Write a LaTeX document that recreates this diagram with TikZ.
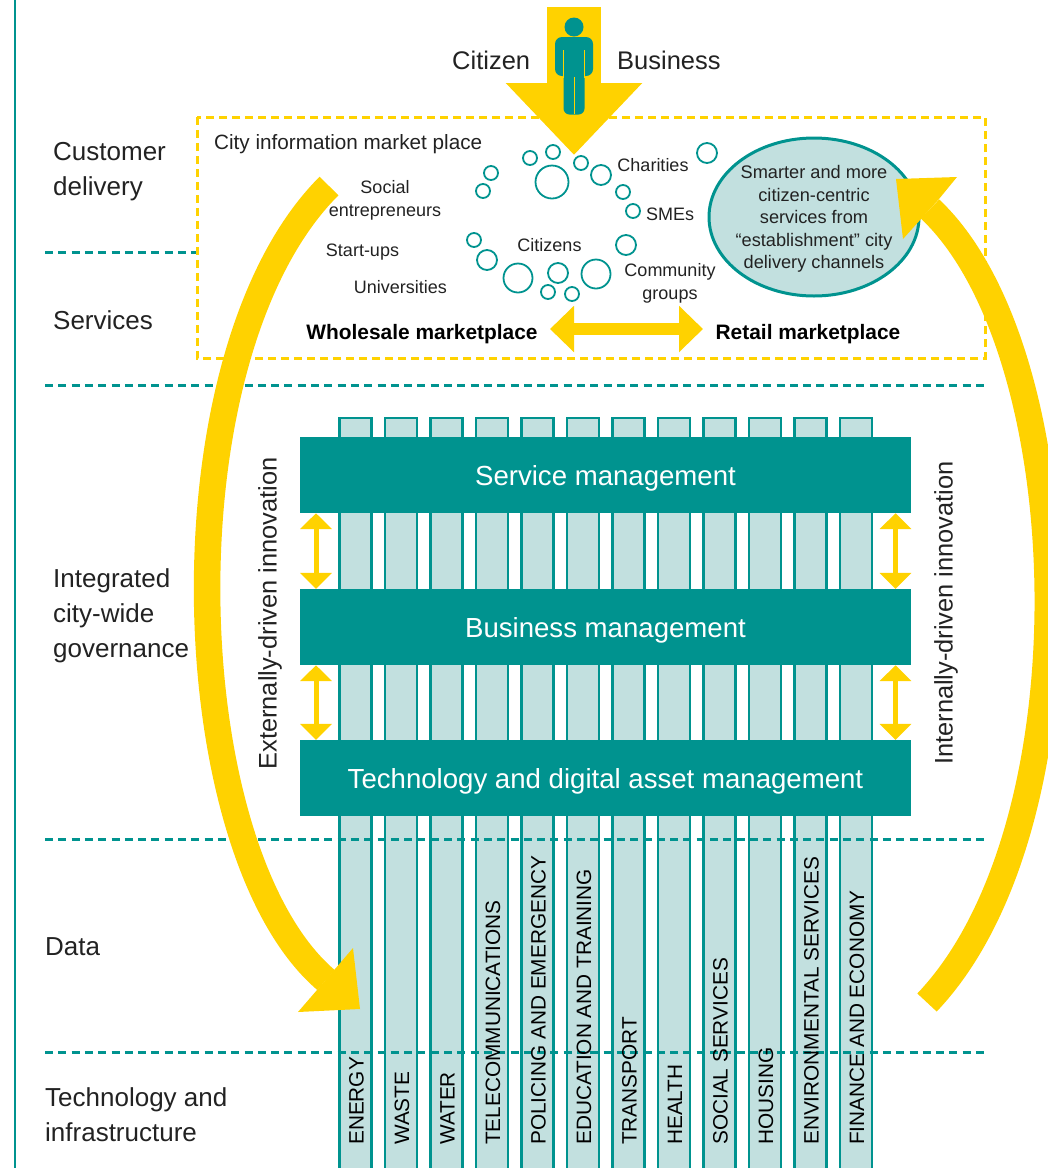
\documentclass[tikz,border=0pt]{standalone}
\usepackage{fontspec}
\setmainfont{Liberation Sans}
\usetikzlibrary{arrows.meta,shapes.geometric}
\definecolor{cteal}{HTML}{00938F}
\definecolor{clight}{HTML}{C2E0DF}
\definecolor{cgold}{HTML}{FFD200}
\definecolor{cink}{HTML}{222222}
\tikzset{
  colbox/.style={rectangle, draw=cteal, fill=clight, line width=2.8pt, minimum width=32pt, minimum height=770pt, inner sep=0pt, anchor=north},
  collabel/.style={rotate=90, anchor=west, inner sep=0pt, text=black, font=\fontsize{20.8}{20.8}\selectfont},
  tealbar/.style={rectangle, fill=cteal, text=white, minimum width=611pt, minimum height=76pt, inner sep=0pt, text height=26pt, text depth=6pt, font=\fontsize{27.6}{27.6}\selectfont},
  sidelabel/.style={anchor=west, align=left, inner sep=0pt, text=cink, font=\fontsize{26}{35}\selectfont},
  smalllabel/.style={align=center, inner sep=0pt, text=cink, font=\fontsize{18}{23}\selectfont},
  marketlabel/.style={inner sep=0pt, text=black, font=\bfseries\fontsize{20.9}{20.9}\selectfont},
  bubble/.style={circle, draw=cteal, line width=1.8pt, inner sep=0pt},
  tealdash/.style={draw=cteal, line width=3pt, dash pattern=on 8pt off 5.3pt},
  golddash/.style={draw=cgold, line width=3pt, dash pattern=on 8pt off 5pt},
  vertarrow/.style={draw=cgold, line width=5pt, {Triangle[width=31pt,length=16pt]}-{Triangle[width=31pt,length=16pt]}},
  bigcurve/.style={draw=cgold, line width=26.5pt},
}
\begin{document}
\begin{tikzpicture}[x=1pt,y=-1pt]
\clip (0,0) rectangle (1048,1168);
\coordinate (rule0) at (15,0);
\coordinate (rule1) at (15,1168);
\draw[draw=cteal, line width=2.8pt] (rule0) -- (rule1);
\node[colbox] (col0) at (355.5,416.5){};
\node[colbox] (col1) at (401,416.5){};
\node[colbox] (col2) at (446.5,416.5){};
\node[colbox] (col3) at (492,416.5){};
\node[colbox] (col4) at (537.5,416.5){};
\node[colbox] (col5) at (583,416.5){};
\node[colbox] (col6) at (628.5,416.5){};
\node[colbox] (col7) at (674,416.5){};
\node[colbox] (col8) at (719.5,416.5){};
\node[colbox] (col9) at (765,416.5){};
\node[colbox] (col10) at (810.5,416.5){};
\node[colbox] (col11) at (856,416.5){};
\coordinate (dash0a) at (45,252);
\coordinate (dash0b) at (197,252);
\coordinate (dash1a) at (45,385);
\coordinate (dash1b) at (985,385);
\coordinate (dash2a) at (45,839);
\coordinate (dash2b) at (985,839);
\coordinate (dash3a) at (45,1052);
\coordinate (dash3b) at (985,1052);
\draw[tealdash] (dash0a) -- (dash0b);
\draw[tealdash] (dash1a) -- (dash1b);
\draw[tealdash] (dash2a) -- (dash2b);
\draw[tealdash] (dash3a) -- (dash3b);
\coordinate (mark0) at (197,117);
\coordinate (mark1) at (985,358);
\draw[golddash] (mark0) rectangle (mark1);
\node[collabel] (lab0) at (356.5,1145){ENERGY};
\node[collabel] (lab1) at (402,1145){WASTE};
\node[collabel] (lab2) at (447.5,1145){WATER};
\node[collabel] (lab3) at (493,1145){TELECOMMUNICATIONS};
\node[collabel] (lab4) at (538.5,1145){POLICING AND EMERGENCY};
\node[collabel] (lab5) at (584,1145){EDUCATION AND TRAINING};
\node[collabel] (lab6) at (629.5,1145){TRANSPORT};
\node[collabel] (lab7) at (675,1145){HEALTH};
\node[collabel] (lab8) at (720.5,1145){SOCIAL SERVICES};
\node[collabel] (lab9) at (766,1145){HOUSING};
\node[collabel] (lab10) at (811.5,1145){ENVIRONMENTAL SERVICES};
\node[collabel] (lab11) at (857,1145){FINANCE AND ECONOMY};
\node[tealbar] (svc) at (605.5,475){Service management};
\node[tealbar] (bus) at (605.5,627){Business management};
\node[tealbar] (tech) at (605.5,778){Technology and digital asset management};
\coordinate (axL) at (316,0);
\coordinate (axR) at (895.5,0);
\draw[vertarrow] (svc.south -| axL) -- (bus.north -| axL);
\draw[vertarrow] (bus.south -| axL) -- (tech.north -| axL);
\draw[vertarrow] (svc.south -| axR) -- (bus.north -| axR);
\draw[vertarrow] (bus.south -| axR) -- (tech.north -| axR);
\node[sidelabel, rotate=90, anchor=center, font=\fontsize{25.4}{25.4}\selectfont] (extern) at (270,613.5){Externally-driven innovation};
\node[sidelabel, rotate=90, anchor=center, font=\fontsize{25.4}{25.4}\selectfont] (intern) at (946,613){Internally-driven innovation};
\node[sidelabel] (cust) at (53,172){Customer\\delivery};
\node[sidelabel] (serv) at (53,320){Services};
\node[sidelabel] (gov) at (53,616){Integrated\\city-wide\\governance};
\node[sidelabel] (data) at (45,947){Data};
\node[sidelabel] (infra) at (45,1115){Technology and\\infrastructure};
\node[sidelabel, font=\fontsize{25.5}{25.5}\selectfont] (citizen) at (452,60){Citizen};
\node[sidelabel, font=\fontsize{25.5}{25.5}\selectfont] (business) at (617,60){Business};
\node[smalllabel, anchor=west, font=\fontsize{20.7}{20.7}\selectfont] (market) at (214,144){City information market place};
\node[smalllabel] (social) at (385,200){Social\\entrepreneurs};
\node[smalllabel] (startup) at (362.5,252){Start-ups};
\node[smalllabel] (univ) at (400.5,287){Universities};
\node[smalllabel] (charity) at (653,165){Charities};
\node[smalllabel] (sme) at (670,214){SMEs};
\node[smalllabel] (citizens) at (549.5,245){Citizens};
\node[smalllabel] (group) at (670,283.5){Community\\groups};
\node[ellipse, draw=cteal, fill=clight, line width=3pt, minimum width=210pt, minimum height=158pt, inner sep=0pt] (smart) at (814,217){};
\node[smalllabel, font=\fontsize{18.2}{22.5}\selectfont] (smarttext) at (814,219){Smarter and more\\citizen-centric\\services from\\“establishment” city\\delivery channels};
\node[bubble, minimum size=14pt] (bub0) at (530,158){};
\node[bubble, minimum size=14pt] (bub1) at (553,152){};
\node[bubble, minimum size=14pt] (bub2) at (581,163){};
\node[bubble, minimum size=33pt] (bub3) at (552,182){};
\node[bubble, minimum size=20pt] (bub4) at (601,175){};
\node[bubble, minimum size=14pt] (bub5) at (623,192){};
\node[bubble, minimum size=14pt] (bub6) at (633,211){};
\node[bubble, minimum size=14pt] (bub7) at (491,173){};
\node[bubble, minimum size=14pt] (bub8) at (483,191){};
\node[bubble, minimum size=20pt] (bub9) at (707,153){};
\node[bubble, minimum size=14pt] (bub10) at (474,240){};
\node[bubble, minimum size=20pt] (bub11) at (487,260){};
\node[bubble, minimum size=29pt] (bub12) at (518,278){};
\node[bubble, minimum size=20pt] (bub13) at (558,273){};
\node[bubble, minimum size=29pt] (bub14) at (596,274){};
\node[bubble, minimum size=20pt] (bub15) at (626,245){};
\node[bubble, minimum size=14pt] (bub16) at (548,292){};
\node[bubble, minimum size=14pt] (bub17) at (572,294){};
\node[marketlabel] (whole) at (422,334){Wholesale marketplace};
\node[marketlabel] (retail) at (808,334){Retail marketplace};
\coordinate (mkL) at (550,329);
\coordinate (mkR) at (703,329);
\draw[draw=cgold, line width=12pt, {Triangle[width=45pt,length=24pt]}-{Triangle[width=45pt,length=24pt]}] (mkL) -- (mkR);
\coordinate (inTop) at (574,7);
\coordinate (inTip) at (574,155);
\draw[draw=cgold, line width=54pt, -{Triangle[width=132pt,length=72pt]}] (inTop) -- (inTip);
\coordinate (leftA) at (329,186);
\coordinate (leftB) at (326,980);
\coordinate (rightA) at (927,1002.5);
\coordinate (rightB) at (930,209);
\draw[bigcurve] (leftA) .. controls (159,356) and (175,851) .. (leftB);
\draw[bigcurve] (rightA) .. controls (1095,826) and (1080,350) .. (rightB);
\fill[cgold] (360,1009) -- (353,948) -- (335,969) -- (317,990) -- (298,1012) -- cycle;
\fill[cgold] (896,179) -- (957,177) -- (939,199) -- (921,219) -- (903,239) -- cycle;
\node[circle, fill=cteal, minimum size=19pt, inner sep=0pt] (head) at (574,27){};
\fill[cteal, rounded corners=7pt] (555,37) rectangle (593,76);
\fill[cteal, rounded corners=6pt] (563.5,60) rectangle (584.5,114.5);
\draw[draw=cgold, line width=1pt] (563.5,50) -- (563.5,78);
\draw[draw=cgold, line width=1pt] (584.5,50) -- (584.5,78);
\draw[draw=cgold, line width=.6pt] (574,77) -- (574,114);
\end{tikzpicture}
\end{document}
